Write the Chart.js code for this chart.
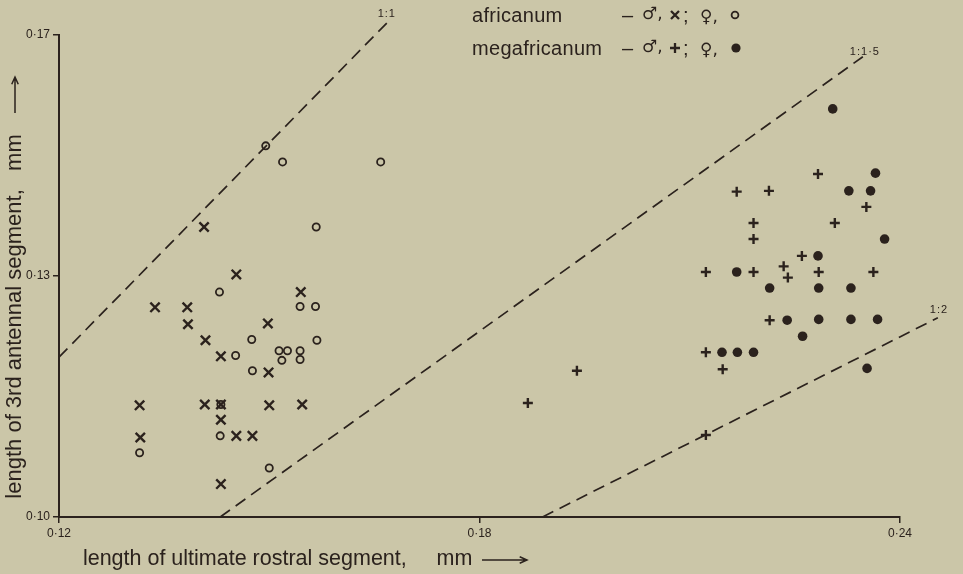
<!DOCTYPE html>
<html><head><meta charset="utf-8">
<script src="https://cdn.jsdelivr.net/npm/chart.js@4.4.1/dist/chart.umd.min.js"></script>
<style>
html,body{margin:0;padding:0;background:#CBC6A8;}
#wrap{position:relative;width:963px;height:574px;overflow:hidden;background:#CBC6A8;}
canvas{position:absolute;left:0;top:0;}
.lg{position:absolute;font-family:"Liberation Sans",Arial,sans-serif;color:#2b221d;font-size:20px;line-height:22px;white-space:pre;}
.sy{position:absolute;font-family:"DejaVu Sans",sans-serif;color:#2b221d;font-size:17px;line-height:18px;white-space:pre;}
</style></head><body>
<div id="wrap">
<canvas id="c" width="963" height="574"></canvas>
<div class="lg" style="left:472px;top:4px;letter-spacing:0.3px">africanum</div>
<div class="lg" style="left:472px;top:37px;letter-spacing:0.3px">megafricanum</div>
<div class="lg" style="left:622px;top:4px">–</div>
<div class="lg" style="left:622px;top:37px">–</div>
<div class="sy" style="left:642px;top:4px">♂,</div>
<div class="sy" style="left:642px;top:37px">♂,</div>
<div class="lg" style="left:683px;top:4px">;</div>
<div class="lg" style="left:683px;top:37px">;</div>
<div class="sy" style="left:700px;top:7px">♀,</div>
<div class="sy" style="left:700px;top:40px">♀,</div>
</div>
<script>
// ---- data ----
const xTickValues = [0.12, 0.18, 0.24];
const xTickLabels = ['0·12', '0·18', '0·24'];
const yTickValues = [0.10, 0.13, 0.16];
const yTickLabels = ['0·10', '0·13', '0·17'];
const xTitle = '    length of ultimate rostral segment,     mm';
const yTitle = '   length of 3rd antennal segment,   mm';

// africanum, male (x)
const africanumMale = [
  [0.1407,0.1361],[0.1453,0.1302],[0.1545,0.1280],[0.1337,0.1261],[0.1383,0.1261],
  [0.1384,0.1240],[0.1498,0.1241],[0.1409,0.1220],[0.1431,0.1200],[0.1499,0.1180],
  [0.1315,0.1139],[0.1408,0.1140],[0.1431,0.1140],[0.1500,0.1139],[0.1547,0.1140],
  [0.1431,0.1121],[0.1316,0.1099],[0.1453,0.1101],[0.1476,0.1101],[0.1431,0.1041]
];
// africanum, female (o)
const africanumFemale = [
  [0.1495,0.1462],[0.1519,0.1442],[0.1659,0.1442],[0.1567,0.1361],[0.1429,0.1280],
  [0.1544,0.1262],[0.1566,0.1262],[0.1475,0.1221],[0.1568,0.1220],[0.1452,0.1201],
  [0.1514,0.1207],[0.1526,0.1207],[0.1544,0.1207],[0.1518,0.1195],[0.1544,0.1196],
  [0.1476,0.1182],[0.1431,0.1140],[0.1430,0.1101],[0.1315,0.1080],[0.1500,0.1061]
];
// megafricanum, male (+)
const megafricanumMale = [
  [0.1939,0.1182],[0.1869,0.1142],[0.2123,0.1102],[0.2167,0.1405],[0.2213,0.1406],
  [0.2283,0.1427],[0.2352,0.1386],[0.2191,0.1366],[0.2191,0.1346],[0.2307,0.1366],
  [0.2260,0.1325],[0.2123,0.1305],[0.2191,0.1305],[0.2234,0.1312],[0.2240,0.1298],
  [0.2284,0.1305],[0.2362,0.1305],[0.2214,0.1245],[0.2123,0.1205],[0.2147,0.1184]
];
// megafricanum, female (filled dot)
const megafricanumFemale = [
  [0.2304,0.1508],[0.2365,0.1428],[0.2327,0.1406],[0.2358,0.1406],[0.2378,0.1346],
  [0.2283,0.1325],[0.2167,0.1305],[0.2214,0.1285],[0.2284,0.1285],[0.2330,0.1285],
  [0.2239,0.1245],[0.2284,0.1246],[0.2330,0.1246],[0.2368,0.1246],[0.2261,0.1225],
  [0.2146,0.1205],[0.2168,0.1205],[0.2191,0.1205],[0.2353,0.1185]
];
// ratio guide lines (as drawn)
const ratio1to1 = [[0.1200,0.1199],[0.1669,0.1616]];
const ratio1to15 = [[0.1430,0.1000],[0.2347,0.1573]];
const ratio1to2 = [[0.1890,0.1000],[0.2454,0.1248]];
const ratioLabels = ['1:1', '1:1·5', '1:2'];

// ---- drawing ----
const INK = '#2b221d';
const toXY = a => a.map(p => ({x: p[0], y: p[1]}));
const ratioLines = [ratio1to1, ratio1to15, ratio1to2];
const ratioLabelOffsets = [[-10,-8],[-13,-5],[-8,-8]];

const ratioLabelPlugin = {
  id: 'ratioLabels',
  afterDatasetsDraw(chart) {
    const {ctx, scales: {x, y}} = chart;
    ctx.save();
    ctx.fillStyle = INK;
    ctx.font = '11px "Liberation Sans", Arial, sans-serif';
    try { ctx.letterSpacing = '1px'; } catch (e) {}
    ctx.textBaseline = 'middle';
    ctx.textAlign = 'left';
    ratioLines.forEach((ln, i) => {
      const end = ln[ln.length - 1];
      const px = x.getPixelForValue(end[0]), py = y.getPixelForValue(end[1]);
      ctx.fillText(ratioLabels[i], px + ratioLabelOffsets[i][0], py + ratioLabelOffsets[i][1]);
    });
    ctx.restore();
  }
};

function arrow(ctx, x1, y1, x2, y2) {
  const a = Math.atan2(y2 - y1, x2 - x1), h = 8, s = 0.42;
  ctx.beginPath();
  ctx.moveTo(x1, y1); ctx.lineTo(x2, y2);
  ctx.moveTo(x2 - h * Math.cos(a - s), y2 - h * Math.sin(a - s));
  ctx.lineTo(x2, y2);
  ctx.lineTo(x2 - h * Math.cos(a + s), y2 - h * Math.sin(a + s));
  ctx.stroke();
}

const decorPlugin = {
  id: 'decor',
  afterDraw(chart) {
    const ctx = chart.ctx;
    ctx.save();
    ctx.strokeStyle = INK; ctx.fillStyle = INK; ctx.lineWidth = 2.3; ctx.lineCap = 'butt';
    // legend x
    ctx.beginPath();
    ctx.moveTo(671, 11); ctx.lineTo(679, 19); ctx.moveTo(679, 11); ctx.lineTo(671, 19);
    ctx.stroke();
    // legend +
    ctx.beginPath();
    ctx.moveTo(670, 48); ctx.lineTo(680, 48); ctx.moveTo(675, 43); ctx.lineTo(675, 53);
    ctx.stroke();
    // legend o
    ctx.lineWidth = 1.8;
    ctx.beginPath(); ctx.arc(735, 15, 3.4, 0, Math.PI * 2); ctx.stroke();
    // legend filled dot
    ctx.beginPath(); ctx.arc(736, 48, 4.6, 0, Math.PI * 2); ctx.fill();
    // axis-title arrows
    ctx.lineWidth = 1.5;
    arrow(ctx, 482, 560, 527, 560);
    arrow(ctx, 15, 113, 15, 77);
    ctx.restore();
  }
};

const lineDs = (data) => ({
  data: toXY(data), showLine: true, borderColor: INK, borderWidth: 1.7,
  borderDash: [12, 7], pointRadius: 0, fill: false, clip: false, order: 10
});

new Chart(document.getElementById('c'), {
  type: 'scatter',
  data: {
    datasets: [
      {label: 'africanum ♂', data: toXY(africanumMale), pointStyle: 'crossRot', pointRadius: 6.6,
       borderColor: INK, backgroundColor: INK, borderWidth: 2.4, order: 1},
      {label: 'africanum ♀', data: toXY(africanumFemale), pointStyle: 'circle', pointRadius: 3.6,
       borderColor: INK, backgroundColor: 'rgba(0,0,0,0)', borderWidth: 1.8, order: 2},
      {label: 'megafricanum ♂', data: toXY(megafricanumMale), pointStyle: 'cross', pointRadius: 5,
       borderColor: INK, backgroundColor: INK, borderWidth: 2.4, order: 3},
      {label: 'megafricanum ♀', data: toXY(megafricanumFemale), pointStyle: 'circle', pointRadius: 4.8,
       borderColor: INK, backgroundColor: INK, borderWidth: 0, order: 4},
      lineDs(ratio1to1), lineDs(ratio1to15), lineDs(ratio1to2)
    ]
  },
  options: {
    responsive: false, animation: false, devicePixelRatio: 1, events: [],
    layout: {padding: {top: 35, right: 63, bottom: 0, left: 0}},
    plugins: {legend: {display: false}, tooltip: {enabled: false}},
    scales: {
      x: {
        type: 'linear', min: 0.12, max: 0.24,
        afterBuildTicks: s => { s.ticks = xTickValues.map(v => ({value: v})); },
        afterFit: s => { s.height = 57; },
        ticks: {callback: (v, i) => xTickLabels[i], autoSkip: false, maxRotation: 0, color: INK,
                padding: 3, font: {family: 'Liberation Sans', size: 12}},
        grid: {drawOnChartArea: false, drawTicks: true, tickLength: 6, color: INK, lineWidth: 1.5},
        border: {display: true, color: INK, width: 2},
        title: {display: true, text: xTitle, align: 'start', color: INK,
                font: {family: 'Liberation Sans', size: 21.5}, padding: {top: 0, bottom: 2}}
      },
      y: {
        type: 'linear', min: 0.10, max: 0.16,
        afterBuildTicks: s => { s.ticks = yTickValues.map(v => ({value: v})); },
        afterFit: s => { s.width = 59; },
        ticks: {callback: (v, i) => yTickLabels[i], autoSkip: false, color: INK,
                padding: 3, font: {family: 'Liberation Sans', size: 12}},
        grid: {drawOnChartArea: false, drawTicks: true, tickLength: 6, color: INK, lineWidth: 1.5},
        border: {display: true, color: INK, width: 2},
        title: {display: true, text: yTitle, align: 'start', color: INK,
                font: {family: 'Liberation Sans', size: 22}, padding: {top: 2, bottom: 0}}
      }
    }
  },
  plugins: [ratioLabelPlugin, decorPlugin]
});
</script>
</body></html>
